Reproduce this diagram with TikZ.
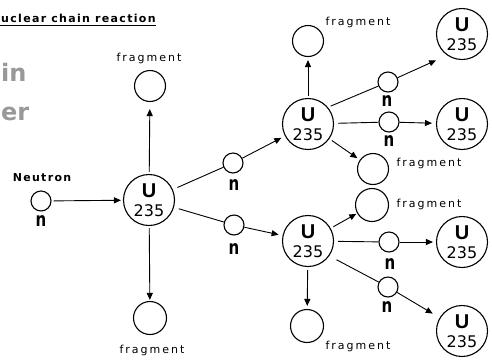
\documentclass[tikz,border=0pt]{standalone}
\usepackage{fontspec}
\setmainfont{DejaVu Sans}
\newfontfamily\pixfont[LetterSpace=18]{DejaVu Sans}
\newfontfamily\pixbold[LetterSpace=12]{DejaVu Sans Bold}
\newfontfamily\ufontfam{Liberation Sans Bold}
\usetikzlibrary{arrows.meta,calc}
\begin{document}
\begin{tikzpicture}[x=1pt,y=-1pt,
  ring/.style={circle,draw,line width=1.1pt,inner sep=0pt},
  ubig/.style={ring,minimum size=51pt},
  nsmall/.style={ring,minimum size=20pt},
  frag/.style={ring,minimum size=31pt},
  lbl/.style={font=\pixfont\fontsize{11}{11}\selectfont,inner sep=0pt},
  nl/.style={font=\bfseries\fontsize{15}{15}\selectfont,inner sep=0pt},
  ul/.style={font=\ufontfam\fontsize{20}{20}\selectfont,inner sep=0pt},
  numl/.style={font=\fontsize{16}{16}\selectfont,inner sep=0pt},
  conn/.style={line width=0.9pt},
  arr/.style={conn,-{Triangle[length=7pt,width=6pt]}},
  ghost/.style={font=\bfseries\fontsize{24}{24}\selectfont,text=black!40,inner sep=0pt},
]
\fill[white] (0,0) rectangle (492,360);
\useasboundingbox (0,0) rectangle (492,360);

\newcommand\uranium[2]{%
  \node[ubig] (#1) at (#2) {};
  \node[ul] (#1u) at ($(#1)+(0,-9)$) {U};
  \node[numl] (#1n) at ($(#1)+(0,11)$) {235};
}
\newcommand\neutr[3]{%
  \node[nsmall] (#1) at (#2) {};
  \node[nl] (#1l) at (#3) {\scalebox{1}[1.3]{n}};
}

% title and faded heading
\node[font=\pixbold\fontsize{11}{11}\selectfont,anchor=base west,inner sep=0pt] (title) at (1,22) {uclear chain reaction};
\draw[line width=1.3pt] (0,25.5) -- (title.south east |- 0,25.5);
\node[ghost,anchor=west] (gh1) at (1,72) {in};
\node[ghost,anchor=west] (gh2) at (1,114) {er};

% nodes
\uranium{U1}{149,200}
\node[frag] (fT) at (150,86) {};
\node[lbl] (fTl) at (149,58) {fragment};
\node[frag,minimum size=33pt] (fB) at (150,318) {};
\node[lbl] (fBl) at (152,350) {fragment};
\neutr{nN}{41,201}{41,221}
\node[font=\pixbold\fontsize{11}{11}\selectfont,inner sep=0pt] (neutron) at (42,178) {Neutron};
\neutr{na}{233,163}{234,185}
\neutr{nb}{234,225}{234,249}

\uranium{U2}{308,124}
\node[frag] (fU2) at (308,41) {};
\node[lbl] (fU2l) at (358,22) {fragment};
\neutr{nc}{388,82}{387,101}
\neutr{nd}{389,122}{389,141}
\uranium{Utr}{462,34}
\uranium{Ur2}{462,124}
\node[frag] (f1) at (373,169) {};
\node[lbl] (f1l) at (429,163) {fragment};
\node[frag,minimum size=33pt] (f2) at (372,205) {};
\node[lbl] (f2l) at (429,204) {fragment};

\uranium{U4}{308,241}
\neutr{ne}{389,242}{390,264}
\neutr{nf}{388,287}{387,307}
\node[frag,minimum size=33pt] (fB4) at (307,326) {};
\node[lbl] (fB4l) at (358,346) {fragment};
\uranium{Ur3}{462,242}
\uranium{Ur4}{462,331}

% connectors
\draw[arr,shorten <=2pt,shorten >=2pt] (nN) -- (U1);
\draw[arr,shorten <=2pt,shorten >=7pt] (U1) -- (fT);
\draw[arr,shorten <=2pt,shorten >=1pt] (U1) -- (fB);
\draw[conn,shorten <=5pt] (U1) -- (na);
\draw[arr,shorten >=4pt] (na) -- (U2);
\draw[conn,shorten <=5pt] (U1) -- (nb);
\draw[arr,shorten >=4pt] (nb) -- (U4);

\draw[arr,shorten <=2pt,shorten >=3pt] (U2) -- (fU2);
\draw[conn,shorten <=3pt] (U2.40) -- (nc);
\draw[arr,shorten >=12pt] (nc) -- (Utr.235);
\draw[conn,shorten <=4pt] (U2) -- (nd);
\draw[arr,shorten >=4pt] (nd) -- (Ur2);
\draw[arr,shorten <=3pt,shorten >=3pt] (U2) -- (f1);
\draw[arr,shorten <=3pt,shorten >=1pt] (U4) -- (f2);
\draw[conn,shorten <=4pt] (U4) -- (ne);
\draw[arr,shorten >=3pt] (ne) -- (Ur3);
\draw[conn,shorten <=8pt] (U4.-35) -- (nf);
\draw[arr,shorten >=8pt] (nf) -- (Ur4);
\draw[arr,shorten <=3pt,shorten >=3pt] (U4) -- (fB4);
\end{tikzpicture}
\end{document}
